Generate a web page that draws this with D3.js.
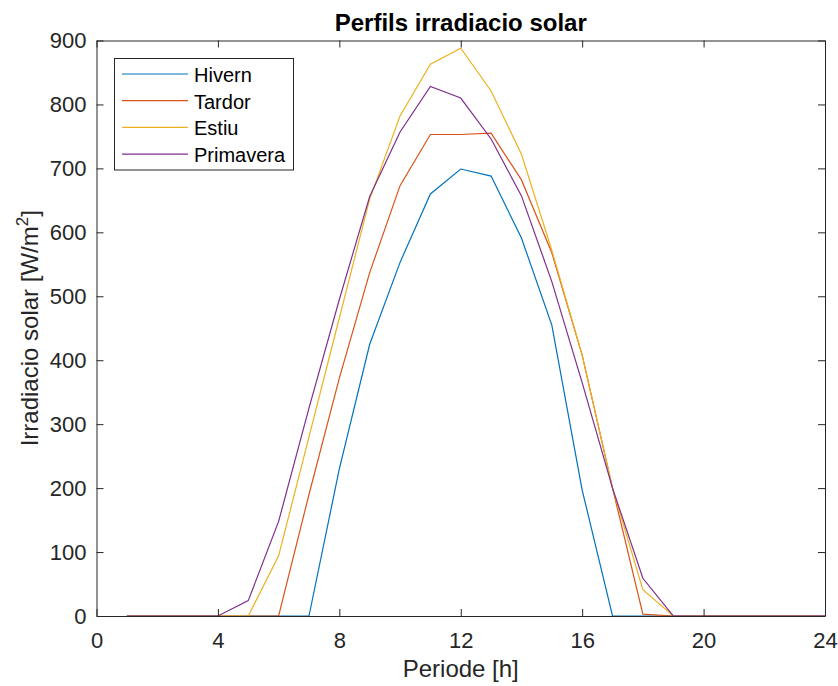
<!DOCTYPE html>
<html>
<head>
<meta charset="utf-8">
<script src="https://cdn.jsdelivr.net/npm/d3@7"></script>
<style>
  body { margin: 0; background: #fff; }
  text { font-family: "Liberation Sans", Arial, Helvetica, sans-serif; }
</style>
</head>
<body>
<div id="chart"></div>
<script>
// hours 1..24
var hours = [1, 2, 3, 4, 5, 6, 7, 8, 9, 10, 11, 12, 13, 14, 15, 16, 17, 18, 19, 20, 21, 22, 23, 24];
var hivern    = [0, 0, 0, 0, 0, 0, 0, 230, 425, 553, 660, 699, 688, 591, 455, 197, 0, 0, 0, 0, 0, 0, 0, 0];
var tardor    = [0, 0, 0, 0, 0, 0, 190, 372, 537, 673, 753, 753, 755, 682, 568, 408, 200, 3, 0, 0, 0, 0, 0, 0];
var estiu     = [0, 0, 0, 0, 0, 94, 280, 466, 652, 782, 863, 888, 821, 722, 572, 408, 200, 41, 0, 0, 0, 0, 0, 0];
var primavera = [0, 0, 0, 0, 24, 148, 325, 495, 656, 757, 828, 810, 746, 657, 523, 365, 200, 59, 0, 0, 0, 0, 0, 0];

var seriesNames = ["Hivern", "Tardor", "Estiu", "Primavera"];
var seriesValues = [hivern, tardor, estiu, primavera];
var colors = ["#0072BD", "#D95319", "#EDB120", "#7E2F8E"];

var xTicks = [0, 4, 8, 12, 16, 20, 24];
var yTicks = [0, 100, 200, 300, 400, 500, 600, 700, 800, 900];

function init() {
    var w = 838, h = 686;
    var pLeft = 96.5, pRight = 825, pTop = 40.5, pBottom = 616;
    var axisColor = "#262626";

    var svg = d3.select("#chart").append("svg")
        .attr("width", w)
        .attr("height", h);

    var x = d3.scaleLinear().domain([0, 24]).range([pLeft, pRight]);
    var y = d3.scaleLinear().domain([0, 900]).range([pBottom, pTop]);

    // lines
    var line = d3.line()
        .x(function(d, i) { return x(hours[i]); })
        .y(function(d) { return y(d); });

    svg.selectAll("path.serie")
        .data(seriesValues)
        .enter()
        .append("path")
        .attr("class", "serie")
        .attr("fill", "none")
        .attr("stroke", function(d, i) { return colors[i]; })
        .attr("stroke-width", 1.2)
        .attr("d", line);

    // axes (ticks inside, box on)
    var fontSize = "22px";
    var xAxis = svg.append("g")
        .attr("transform", "translate(0," + pBottom + ")")
        .call(d3.axisBottom(x).tickValues(xTicks).tickSizeInner(-7).tickSizeOuter(0).tickPadding(16));
    var yAxis = svg.append("g")
        .attr("transform", "translate(" + pLeft + ",0)")
        .call(d3.axisLeft(y).tickValues(yTicks).tickSizeInner(-7).tickSizeOuter(0).tickPadding(10));
    var xTop = svg.append("g")
        .attr("transform", "translate(0," + pTop + ")")
        .call(d3.axisTop(x).tickValues(xTicks).tickSizeInner(-7).tickSizeOuter(0).tickFormat(""));
    var yRight = svg.append("g")
        .attr("transform", "translate(" + pRight + ",0)")
        .call(d3.axisRight(y).tickValues(yTicks).tickSizeInner(-7).tickSizeOuter(0).tickFormat(""));

    [xAxis, yAxis, xTop, yRight].forEach(function(g) {
        g.select(".domain").attr("stroke", axisColor).attr("stroke-width", 1);
        g.selectAll(".tick line").attr("stroke", axisColor).attr("stroke-width", 1);
        g.selectAll(".tick text")
            .attr("fill", axisColor)
            .style("font-size", fontSize)
            .style("font-family", "'Liberation Sans', Arial, sans-serif");
    });

    // title
    svg.append("text")
        .attr("x", (pLeft + pRight) / 2)
        .attr("y", 31)
        .attr("text-anchor", "middle")
        .attr("font-weight", "bold")
        .attr("font-size", "24px")
        .attr("fill", "#000")
        .text("Perfils irradiacio solar");

    // x label
    svg.append("text")
        .attr("x", (pLeft + pRight) / 2)
        .attr("y", 677)
        .attr("text-anchor", "middle")
        .attr("font-size", "24px")
        .attr("fill", axisColor)
        .text("Periode [h]");

    // y label
    var yl = svg.append("text")
        .attr("transform", "translate(38," + ((pTop + pBottom) / 2) + ") rotate(-90)")
        .attr("text-anchor", "middle")
        .attr("font-size", "24px")
        .attr("fill", axisColor);
    yl.append("tspan").text("Irradiacio solar [W/m");
    yl.append("tspan").attr("dy", -10).attr("font-size", "17px").text("2");
    yl.append("tspan").attr("dy", 10).text("]");

    // legend
    var lg = svg.append("g");
    lg.append("rect")
        .attr("x", 114.5).attr("y", 58.5)
        .attr("width", 179).attr("height", 111.5)
        .attr("fill", "#fff")
        .attr("stroke", axisColor)
        .attr("stroke-width", 1);

    var rows = lg.selectAll("g.row")
        .data(seriesNames)
        .enter()
        .append("g")
        .attr("class", "row")
        .attr("transform", function(d, i) { return "translate(0," + (74 + i * 26.7) + ")"; });
    rows.append("line")
        .attr("x1", 122).attr("x2", 188)
        .attr("stroke", function(d, i) { return colors[i]; })
        .attr("stroke-width", 1.2);
    rows.append("text")
        .attr("x", 194)
        .attr("y", 8)
        .attr("font-size", "20px")
        .attr("fill", "#000")
        .text(function(d) { return d; });
}
window.onload = init;
</script>
</body>
</html>
